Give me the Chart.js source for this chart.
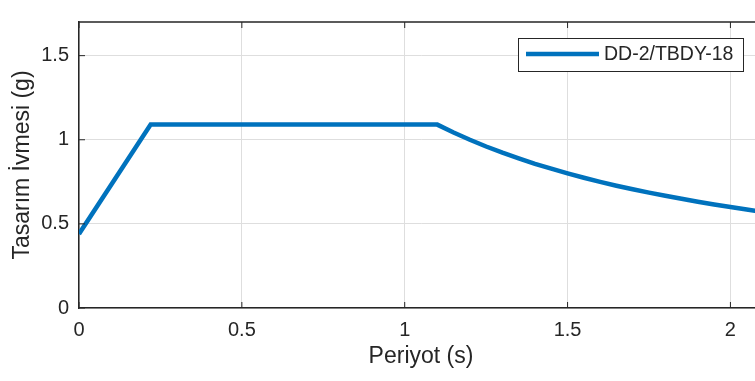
<!DOCTYPE html>
<html>
<head>
<meta charset="utf-8">
<script src="https://cdn.jsdelivr.net/npm/chart.js@4.4.1/dist/chart.umd.min.js"></script>
<style>
  html, body { margin: 0; padding: 0; background: #fff; overflow: hidden; }
  canvas { display: block; }
</style>
</head>
<body>
<canvas id="spectrum" width="765" height="381"></canvas>
<script>
// Design spectrum: period (s) vs. design acceleration (g)
const periods = [0, 0.22, 1.1, 1.15, 1.2, 1.25, 1.3, 1.35, 1.4, 1.45, 1.5, 1.55,
  1.6, 1.65, 1.7, 1.75, 1.8, 1.85, 1.9, 1.95, 2.0, 2.05, 2.1];
const accel = [0.44, 1.09, 1.09, 1.043, 1.0, 0.96, 0.923, 0.889, 0.857, 0.828, 0.8, 0.774,
  0.75, 0.727, 0.706, 0.686, 0.667, 0.649, 0.632, 0.615, 0.6, 0.585, 0.571];
const xTicks = [0, 0.5, 1, 1.5, 2];
const yTicks = [0, 0.5, 1, 1.5];
const seriesLabel = "DD-2/TBDY-18";

const FONT = "'Liberation Sans', Arial, sans-serif";
const AXIS = "#262626";
const BLUE = "#0072BD";

// draws the MATLAB style box, inward ticks and the legend
const boxPlugin = {
  id: "box",
  afterDatasetsDraw(chart) {
    const { ctx, chartArea: a, scales } = chart;
    ctx.save();
    ctx.strokeStyle = AXIS;
    ctx.lineWidth = 1.5;
    ctx.beginPath();
    ctx.moveTo(a.left, a.top);
    ctx.lineTo(a.right, a.top);
    ctx.lineTo(a.right, a.bottom);
    ctx.stroke();

    ctx.lineWidth = 1;
    ctx.beginPath();
    xTicks.forEach((v) => {
      const px = scales.x.getPixelForValue(v);
      ctx.moveTo(px, a.bottom); ctx.lineTo(px, a.bottom - 6);
      ctx.moveTo(px, a.top); ctx.lineTo(px, a.top + 6);
    });
    yTicks.forEach((v) => {
      const py = scales.y.getPixelForValue(v);
      ctx.moveTo(a.left, py); ctx.lineTo(a.left + 6, py);
      ctx.moveTo(a.right, py); ctx.lineTo(a.right - 6, py);
    });
    ctx.stroke();

    // legend
    const lx = a.right - 245, ly = a.top + 16, lw = 225, lh = 33;
    ctx.fillStyle = "#fff";
    ctx.fillRect(lx, ly, lw, lh);
    ctx.strokeStyle = AXIS;
    ctx.lineWidth = 1;
    ctx.strokeRect(lx + 0.5, ly + 0.5, lw, lh);
    ctx.strokeStyle = BLUE;
    ctx.lineWidth = 4.5;
    ctx.beginPath();
    ctx.moveTo(lx + 8, ly + 16);
    ctx.lineTo(lx + 81, ly + 16);
    ctx.stroke();
    ctx.fillStyle = AXIS;
    ctx.font = "19.5px " + FONT;
    ctx.textBaseline = "middle";
    ctx.fillText(seriesLabel, lx + 86, ly + 17);
    ctx.restore();
  },
};

new Chart(document.getElementById("spectrum"), {
  type: "line",
  data: {
    datasets: [
      {
        label: seriesLabel,
        data: periods.map((t, i) => ({ x: t, y: accel[i] })),
        borderColor: BLUE,
        borderWidth: 4.5,
        pointRadius: 0,
        tension: 0,
        clip: 0,
      },
    ],
  },
  options: {
    responsive: false,
    animation: false,
    layout: { padding: { top: 2, right: 2, left: 0, bottom: 0 } },
    plugins: { legend: { display: false }, tooltip: { enabled: false } },
    scales: {
      x: {
        type: "linear",
        min: 0,
        max: 2.1,
        afterFit: (s) => { s.height = 73; },
        afterBuildTicks: (s) => { s.ticks = xTicks.map((v) => ({ value: v })); },
        ticks: {
          padding: 10, color: AXIS, font: { family: FONT, size: 20 }, maxRotation: 0,
          callback: (v) => String(v),
        },
        grid: { color: "#dedede", lineWidth: 1, drawTicks: false },
        border: { color: AXIS, width: 1.5 },
        title: {
          display: true,
          text: "Periyot (s)",
          color: AXIS,
          font: { family: FONT, size: 23 },
          padding: { top: 0, bottom: 11 },
        },
      },
      y: {
        min: 0,
        max: 1.7,
        afterFit: (s) => { s.width = 79; },
        afterBuildTicks: (s) => { s.ticks = yTicks.map((v) => ({ value: v })); },
        ticks: {
          padding: 10, color: AXIS, font: { family: FONT, size: 20 },
          callback: (v) => String(v),
        },
        grid: { color: "#dedede", lineWidth: 1, drawTicks: false },
        border: { color: AXIS, width: 1.5 },
        title: {
          display: true,
          text: "Tasarım İvmesi (g)",
          color: AXIS,
          font: { family: FONT, size: 23 },
          padding: { top: 9, bottom: 0 },
        },
      },
    },
  },
  plugins: [boxPlugin],
});
</script>
</body>
</html>
